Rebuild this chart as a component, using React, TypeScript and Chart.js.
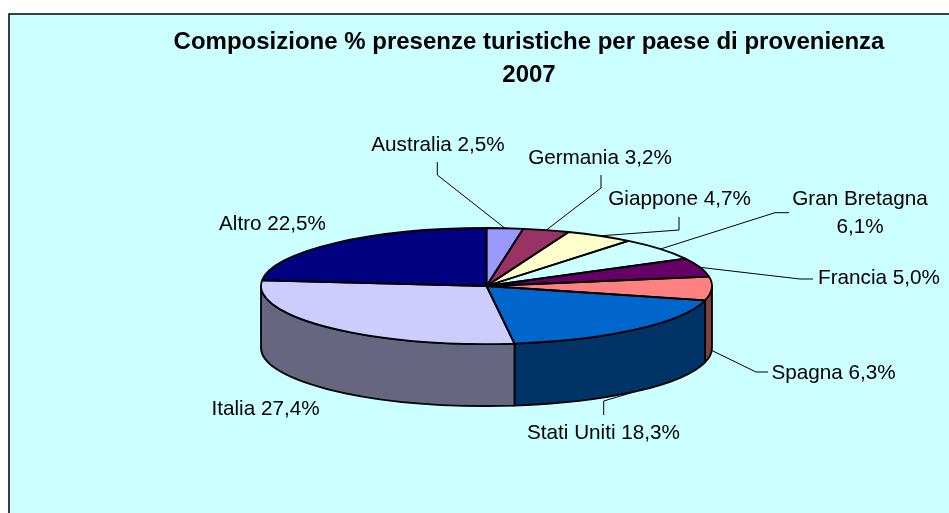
import React, { useEffect, useRef } from "react";
import { Chart, registerables } from "chart.js";

Chart.register(...registerables);

const titleLines = ["Composizione % presenze turistiche per paese di provenienza", "2007"];
const countries = ["Australia", "Germania", "Giappone", "Gran Bretagna", "Francia", "Spagna", "Stati Uniti", "Italia", "Altro"];
const shares = [2.5, 3.2, 4.7, 6.1, 5.0, 6.3, 18.3, 27.4, 22.5];
const sliceColors = ["#9999FF", "#993366", "#FFFFCC", "#CCFFFF", "#660066", "#FF8080", "#0066CC", "#CCCCFF", "#000080"];

const BG = "#CCFFFF";
const PIE = { cx: 486.5, cy: 286, rx: 225.5, ry: 58, depth: 62 };
const FONT = '20.7px "Liberation Sans", Arial, sans-serif';

// Label placement (text centre, optional leader elbow points, whether it attaches on the side wall)
type Layout = { x: number; y: number; split?: boolean; lead?: number[][]; wall?: boolean };
const labelLayout: Layout[] = [
  { x: 438, y: 145, lead: [[437.3, 162], [437.3, 175]] },
  { x: 600, y: 158, lead: [[601, 175], [601, 188]] },
  { x: 679.5, y: 199, lead: [[679, 217], [679, 230]] },
  { x: 860, y: 213, split: true, lead: [[789, 212.7], [775, 212.7]] },
  { x: 879, y: 278, lead: [[813, 279], [800, 279]] },
  { x: 833.5, y: 373, wall: true, lead: [[768, 372], [756, 372]] },
  { x: 603.5, y: 433, wall: true, lead: [[603.7, 415], [603.7, 401]] },
  { x: 265.5, y: 409 },
  { x: 272.5, y: 224 },
];

const shade = (hex: string) => {
  const n = parseInt(hex.slice(1), 16);
  const c = (v: number) => Math.round(v / 2);
  return `rgb(${c((n >> 16) & 255)},${c((n >> 8) & 255)},${c(n & 255)})`;
};
const pct = (v: number) => v.toFixed(1).replace(".", ",") + "%";

const pie3d = {
  id: "pie3d",
  beforeDatasetsDraw(chart: any) {
    const ctx = chart.ctx;
    const arcs = chart.getDatasetMeta(0).data;
    const { cx, cy, rx, ry, depth } = PIE;
    ctx.save();
    // leader lines, under the pie
    ctx.strokeStyle = "#000";
    ctx.lineWidth = 1;
    arcs.forEach((arc: any, i: number) => {
      const l = labelLayout[i];
      if (!l.lead) return;
      const mid = (arc.startAngle + arc.endAngle) / 2;
      const ax = cx + rx * Math.cos(mid);
      const ay = cy + ry * Math.sin(mid) + (l.wall ? depth : 0);
      ctx.beginPath();
      l.lead.forEach((p, k) => (k ? ctx.lineTo(p[0], p[1]) : ctx.moveTo(p[0], p[1])));
      ctx.lineTo(ax, ay);
      ctx.stroke();
    });
    // side wall of the front half
    ctx.lineWidth = 1.8;
    ctx.lineJoin = "round";
    arcs.forEach((arc: any, i: number) => {
      const a0 = Math.max(arc.startAngle, 0);
      const a1 = Math.min(arc.endAngle, Math.PI);
      if (a1 <= a0) return;
      ctx.beginPath();
      ctx.ellipse(cx, cy, rx, ry, 0, a0, a1);
      ctx.ellipse(cx, cy + depth, rx, ry, 0, a1, a0, true);
      ctx.closePath();
      ctx.fillStyle = shade(sliceColors[i]);
      ctx.fill();
      ctx.stroke();
    });
    ctx.restore();
  },
  beforeDatasetDraw(chart: any) {
    const ctx = chart.ctx;
    const arc = chart.getDatasetMeta(0).data[0];
    const R = arc.outerRadius;
    ctx.save();
    ctx.translate(PIE.cx, PIE.cy);
    ctx.scale(PIE.rx / R, PIE.ry / R);
    ctx.translate(-arc.x, -arc.y);
  },
  afterDatasetDraw(chart: any) {
    const ctx = chart.ctx;
    ctx.restore();
    const { cx, cy, rx, ry } = PIE;
    ctx.save();
    ctx.strokeStyle = "#000";
    ctx.lineWidth = 1.8;
    ctx.lineJoin = "round";
    chart.getDatasetMeta(0).data.forEach((arc: any) => {
      ctx.beginPath();
      ctx.moveTo(cx, cy);
      ctx.ellipse(cx, cy, rx, ry, 0, arc.startAngle, arc.endAngle);
      ctx.closePath();
      ctx.stroke();
    });
    ctx.restore();
  },
  afterDatasetsDraw(chart: any) {
    const ctx = chart.ctx;
    ctx.save();
    ctx.font = FONT;
    ctx.fillStyle = "#000";
    ctx.textAlign = "center";
    ctx.textBaseline = "middle";
    countries.forEach((name, i) => {
      const l = labelLayout[i];
      if (l.split) {
        ctx.fillText(name, l.x, l.y - 14);
        ctx.fillText(pct(shares[i]), l.x, l.y + 14);
      } else {
        ctx.fillText(`${name} ${pct(shares[i])}`, l.x, l.y);
      }
    });
    ctx.restore();
  },
  beforeDraw(chart: any) {
    const ctx = chart.ctx;
    ctx.save();
    ctx.fillStyle = "#fff";
    ctx.fillRect(0, 0, chart.width, chart.height);
    ctx.fillStyle = BG;
    ctx.fillRect(9, 14, chart.width, chart.height);
    ctx.strokeStyle = "#000";
    ctx.lineWidth = 1.5;
    ctx.beginPath();
    ctx.moveTo(9, chart.height);
    ctx.lineTo(9, 14);
    ctx.lineTo(chart.width, 14);
    ctx.stroke();
    ctx.restore();
  },
};

export default function App() {
  const ref = useRef<HTMLCanvasElement>(null);
  useEffect(() => {
    const chart = new Chart(ref.current!, {
      type: "pie",
      data: {
        labels: countries,
        datasets: [{ data: shares, backgroundColor: sliceColors, borderWidth: 0 }],
      },
      options: {
        animation: false,
        responsive: false,
        layout: { padding: { left: 109 } },
        plugins: {
          legend: { display: false },
          tooltip: { enabled: false },
          title: {
            display: true,
            text: titleLines,
            color: "#000",
            font: { family: '"Liberation Sans", Arial, sans-serif', size: 24, weight: "bold", lineHeight: "33px" },
            padding: { top: 25.5, bottom: 0 },
          },
        },
      },
      plugins: [pie3d],
    } as any);
    return () => chart.destroy();
  }, []);
  return (
    <div style={{ position: "fixed", left: 0, top: 0, width: 949, height: 513 }}>
      <canvas ref={ref} width={949} height={513} style={{ display: "block" }} />
    </div>
  );
}
